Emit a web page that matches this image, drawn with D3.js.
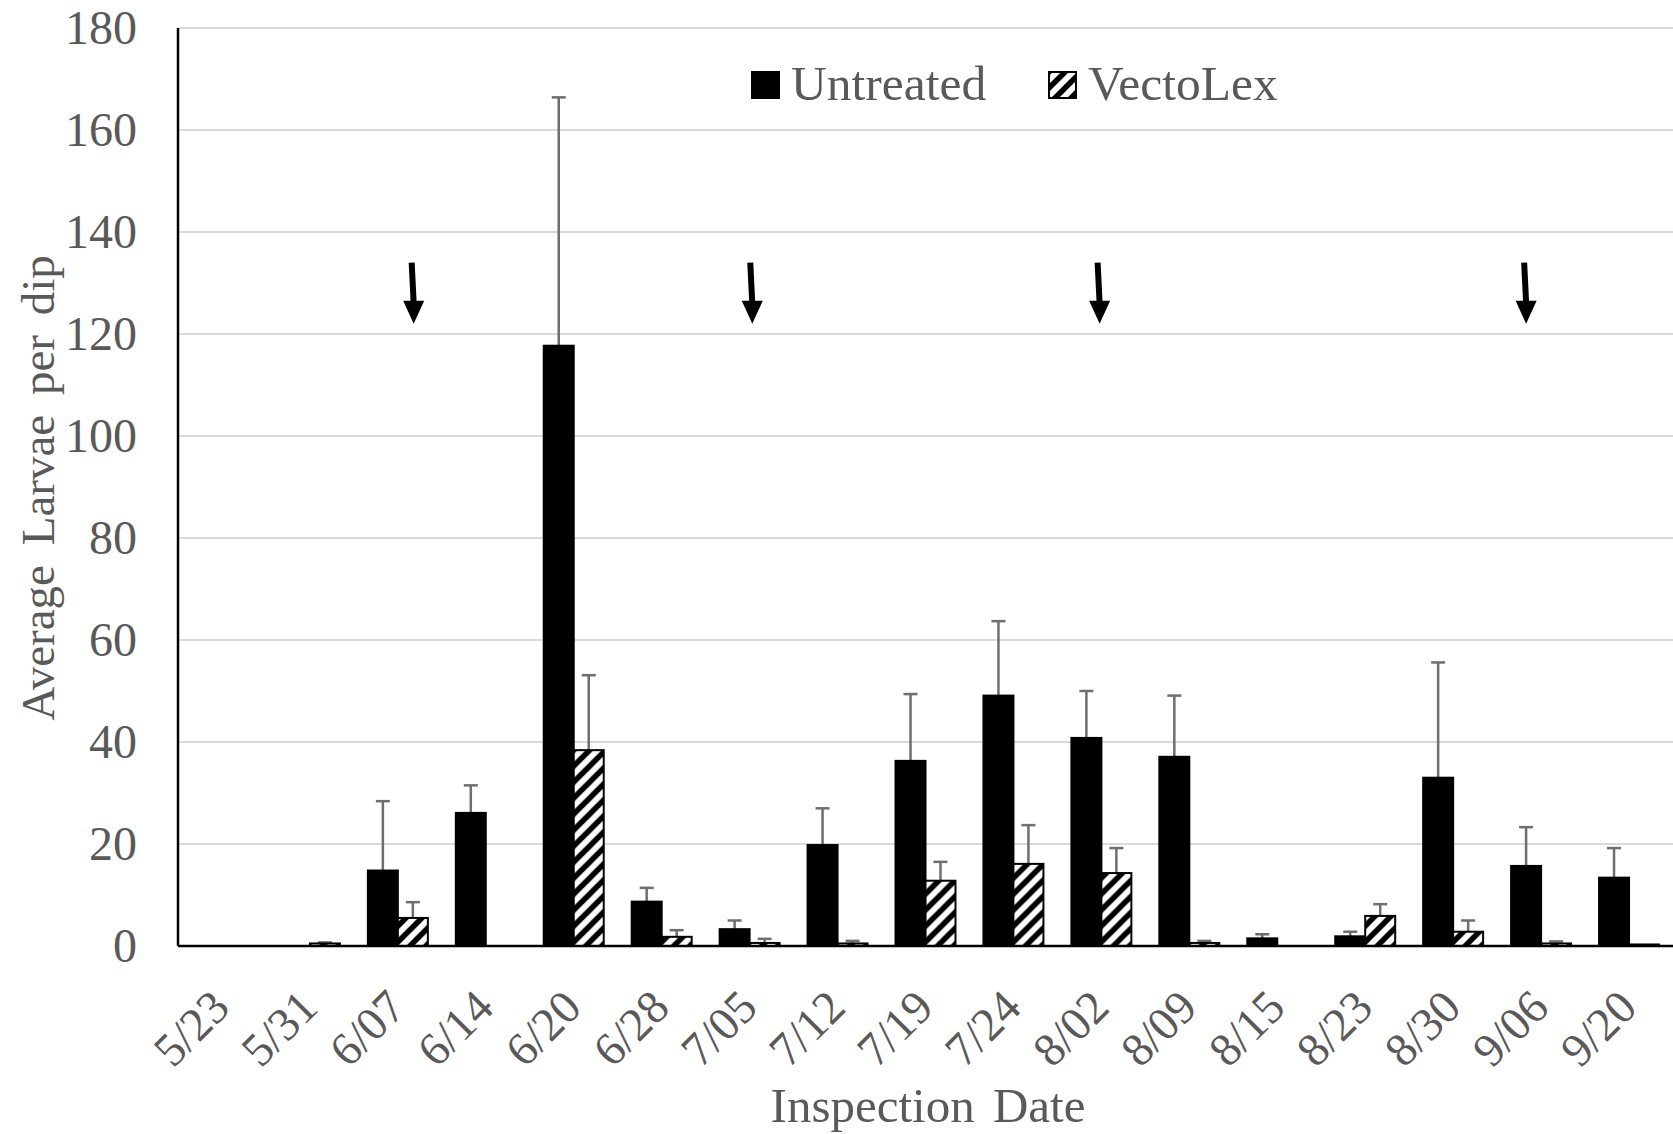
<!DOCTYPE html>
<meta charset="utf-8">
<style>
    body { margin: 0; background: #fff; }
    text { font-family: "Liberation Serif", "Times New Roman", serif; fill: #595959; }
    .grid line { stroke: #d9d9d9; stroke-width: 2px; }
    .err line { stroke: #6e6e6e; stroke-width: 2.5px; }
</style>
<svg width="1673" height="1134"></svg>
<script src="https://d3js.org/d3.v7.min.js"></script>
<script>

    var dates = ["5/23", "5/31", "6/07", "6/14", "6/20", "6/28", "7/05", "7/12", "7/19",
                 "7/24", "8/02", "8/09", "8/15", "8/23", "8/30", "9/06", "9/20"];
    var untreated    = [0, 0, 14.8, 26.1, 117.7, 8.7, 3.3, 19.8, 36.3, 49.1, 40.8, 37.1, 1.5, 1.9, 33.0, 15.7, 13.4];
    var untreatedErr = [0, 0, 13.6, 5.4, 48.7, 2.7, 1.7, 7.2, 13.1, 14.6, 9.2, 12.0, 0.8, 0.9, 22.6, 7.6, 5.8];
    var vectolex     = [0, 0.5, 5.5, 0, 38.4, 1.8, 0.6, 0.5, 12.8, 16.1, 14.3, 0.6, 0, 5.9, 2.8, 0.5, 0.3];
    var vectolexErr  = [0, 0.2, 3.1, 0, 14.7, 1.3, 0.8, 0.5, 3.7, 7.6, 4.9, 0.4, 0, 2.3, 2.2, 0.4, 0];
    var series = ["Untreated", "VectoLex"];
    var yTicks = [0, 20, 40, 60, 80, 100, 120, 140, 160, 180];
    // treatment arrows, as fractional category index
    var treatmentAt = [2.68, 6.53, 10.48, 15.33];

    var svg = d3.select("svg"),
        margin = {top: 28, right: 0, bottom: 188, left: 178},
        width = +svg.attr("width") - margin.left - margin.right,
        height = +svg.attr("height") - margin.top - margin.bottom;

    var defs = svg.append("defs");
    var s = 16;
    var pat = defs.append("pattern")
        .attr("id", "hatch")
        .attr("patternUnits", "userSpaceOnUse")
        .attr("width", s).attr("height", s);
    pat.append("rect").attr("width", s).attr("height", s).attr("fill", "#fff");
    pat.append("path")
        .attr("d", "M-4,4 l8,-8 M0," + s + " l" + s + ",-" + s + " M" + (s - 4) + "," + (s + 4) + " l8,-8")
        .attr("stroke", "#000").attr("stroke-width", 5.5);

    var g = svg.append("g").attr("transform", "translate(" + margin.left + "," + margin.top + ")");

    var x0 = d3.scaleBand().domain(dates).range([0, width]).paddingInner(0.318).paddingOuter(0.159);
    var x1 = d3.scaleBand().domain(series).range([0, x0.bandwidth()]);
    var xi = d3.scaleLinear().domain([0, dates.length]).range([0, width]);
    var y = d3.scaleLinear().domain([0, 180]).range([height, 0]);

    // gridlines
    g.append("g").attr("class", "grid")
        .selectAll("line").data(yTicks.slice(1)).enter().append("line")
        .attr("x1", 0).attr("x2", width)
        .attr("y1", function(d) { return y(d); })
        .attr("y2", function(d) { return y(d); });

    // y tick labels
    g.append("g").selectAll("text").data(yTicks).enter().append("text")
        .attr("x", -41)
        .attr("y", function(d) { return y(d); })
        .attr("dy", "0.33em")
        .attr("text-anchor", "end")
        .style("font-size", "48px")
        .text(function(d) { return d; });

    var rows = dates.map(function(d, i) {
        return {date: d, vals: [
            {key: "Untreated", v: untreated[i], e: untreatedErr[i]},
            {key: "VectoLex", v: vectolex[i], e: vectolexErr[i]}
        ]};
    });

    var grp = g.append("g").selectAll("g").data(rows).enter().append("g")
        .attr("transform", function(d) { return "translate(" + x0(d.date) + ",0)"; });

    // error bars (plus side only)
    var err = grp.selectAll("g.err").data(function(d) { return d.vals.filter(function(v) { return v.e > 0; }); })
        .enter().append("g").attr("class", "err");
    err.append("line")
        .attr("x1", function(d) { return x1(d.key) + x1.bandwidth() / 2; })
        .attr("x2", function(d) { return x1(d.key) + x1.bandwidth() / 2; })
        .attr("y1", function(d) { return y(d.v); })
        .attr("y2", function(d) { return y(d.v + d.e); });
    err.append("line")
        .attr("x1", function(d) { return x1(d.key) + x1.bandwidth() / 2 - 7; })
        .attr("x2", function(d) { return x1(d.key) + x1.bandwidth() / 2 + 7; })
        .attr("y1", function(d) { return y(d.v + d.e); })
        .attr("y2", function(d) { return y(d.v + d.e); });

    // bars
    grp.selectAll("rect").data(function(d) { return d.vals.filter(function(v) { return v.v > 0; }); })
        .enter().append("rect")
        .attr("x", function(d) { return x1(d.key); })
        .attr("width", x1.bandwidth())
        .attr("y", function(d) { return y(d.v); })
        .attr("height", function(d) { return height - y(d.v); })
        .attr("fill", function(d) { return d.key == "Untreated" ? "#000" : "url(#hatch)"; })
        .attr("stroke", "#000")
        .attr("stroke-width", 2);

    // axes lines
    g.append("line").attr("x1", 0).attr("x2", 0).attr("y1", 0).attr("y2", height)
        .attr("stroke", "#000").attr("stroke-width", 2.5);
    g.append("line").attr("x1", 0).attr("x2", width).attr("y1", height).attr("y2", height)
        .attr("stroke", "#000").attr("stroke-width", 2.5);

    // x tick labels
    g.append("g").selectAll("text").data(dates).enter().append("text")
        .attr("transform", function(d) {
            return "translate(" + (x0(d) + x0.bandwidth() / 2 + 10) + "," + (height + 64) + ") rotate(-45)";
        })
        .attr("text-anchor", "end")
        .style("font-size", "47px")
        .text(function(d) { return d; });

    // treatment arrows
    var arr = g.append("g").selectAll("g").data(treatmentAt).enter().append("g");
    arr.append("line")
        .attr("x1", function(d) { return xi(d) - 2; })
        .attr("x2", function(d) { return xi(d); })
        .attr("y1", y(134))
        .attr("y2", y(126))
        .attr("stroke", "#000").attr("stroke-width", 6);
    arr.append("path")
        .attr("d", function(d) {
            var cx = xi(d), top = y(126.5), tip = y(122);
            return "M" + (cx - 10.5) + "," + top + "L" + (cx + 10.5) + "," + top + "L" + cx + "," + tip + "Z";
        })
        .attr("fill", "#000");

    // axis titles
    svg.append("text")
        .attr("transform", "translate(54," + 488 + ") rotate(-90)")
        .attr("text-anchor", "middle")
        .style("font-size", "47px")
        .style("word-spacing", "8px")
        .text("Average Larvae per dip");

    svg.append("text")
        .attr("x", 928).attr("y", 1122)
        .attr("text-anchor", "middle")
        .style("font-size", "49px")
        .style("word-spacing", "6px")
        .text("Inspection Date");

    // legend
    var leg = svg.append("g").selectAll("g").data(series).enter().append("g")
        .attr("transform", function(d, i) { return "translate(" + (752 + i * 297) + ",72)"; });
    leg.append("rect")
        .attr("width", 27).attr("height", 26)
        .attr("fill", function(d) { return d == "Untreated" ? "#000" : "url(#hatch)"; })
        .attr("stroke", "#000").attr("stroke-width", 2);
    leg.append("text")
        .attr("x", 39).attr("y", 28)
        .style("font-size", "49.5px")
        .text(function(d) { return d; });

</script>
